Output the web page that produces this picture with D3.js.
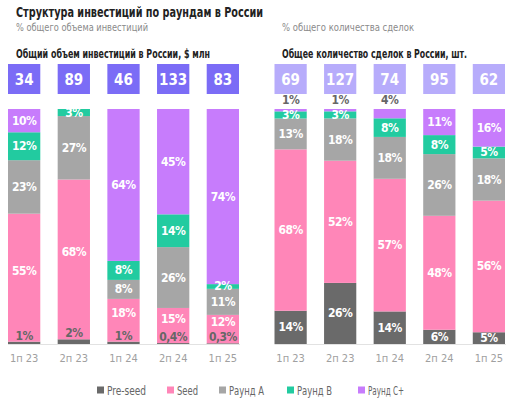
<!DOCTYPE html>
<html><head><meta charset="utf-8">
<script src="https://cdn.jsdelivr.net/npm/d3@7"></script>
<style>
html,body{margin:0;padding:0;background:#fff;}
svg{display:block;font-family:"DejaVu Sans Condensed","DejaVu Sans",sans-serif;font-stretch:condensed;}
</style></head>
<body><svg id="c" width="512" height="404"></svg>
<script>
const periods = ["1п 23","2п 23","1п 24","2п 24","1п 25"];
const series = ["Pre-seed","Seed","Раунд A","Раунд B","Раунд C+"];
const colors = ["#6a6a6a","#ff86b8","#a6a6a6","#22cba0","#c77cfc"];
// Investment volume shares, %
const volPreseed = [1, 2, 1, 0.4, 0.3];
const volSeed    = [55, 68, 18, 15, 12];
const volA       = [23, 27, 8, 26, 11];
const volB       = [12, 3, 8, 14, 2];
const volC       = [10, 0, 64, 45, 74];
const volTotals  = [34, 89, 46, 133, 83];
// Deal count shares, %
const cntPreseed = [14, 26, 14, 6, 5];
const cntSeed    = [68, 52, 57, 48, 56];
const cntA       = [13, 18, 18, 26, 18];
const cntB       = [3, 3, 8, 8, 5];
const cntC       = [1, 1, 4, 11, 16];
const cntTotals  = [69, 127, 74, 95, 62];

const svg = d3.select("#c");
const fmt = v => String(v).replace(".", ",") + "%";

function fitText(sel, len){ sel.attr("textLength",len).attr("lengthAdjust","spacingAndGlyphs"); return sel; }

fitText(svg.append("text").attr("x",16).attr("y",17).attr("font-size",14).attr("font-weight","bold")
  .attr("fill","#222").text("Структура инвестиций по раундам в России"), 247);

function chart(opts){
  const {x0,x1,sub,header,totals,boxColor,vals,chartId} = opts;
  fitText(svg.append("text").attr("x",opts.textX).attr("y",30.5).attr("font-size",11).attr("fill","#8a8a8a").text(sub), opts.subW);
  fitText(svg.append("text").attr("x",opts.textX).attr("y",57.5).attr("font-size",11.5).attr("font-weight","bold").attr("fill","#222").text(header), opts.headW);
  const rows = periods.map((p,i)=>{const o={period:p}; series.forEach((s,j)=>o[s]=vals[j][i]); return o;});
  const stack = d3.stack().keys(series).offset(d3.stackOffsetExpand)(rows);
  const x = d3.scaleBand().domain(periods).range([x0,x1]).paddingInner(0.35).paddingOuter(0);
  const y = d3.scaleLinear().domain([0,1]).range([344,109]);
  const g = svg.append("g");
  g.append("line").attr("x1",x0).attr("x2",x1+1).attr("y1",344.5).attr("y2",344.5).attr("stroke","#e2e2e2").attr("stroke-width",1);
  g.selectAll("rect.box").data(periods).join("rect").attr("class","box")
    .attr("x",d=>x(d)).attr("y",64).attr("width",x.bandwidth()).attr("height",30).attr("fill",boxColor);
  g.selectAll("text.box").data(periods).join("text").attr("class","box")
    .attr("x",d=>x(d)+x.bandwidth()/2).attr("y",84.5).attr("text-anchor","middle")
    .attr("font-size",15).attr("font-weight","bold").attr("fill","#fff").text((d,i)=>totals[i]);
  stack.forEach((layer,j)=>{
    g.selectAll("rect.s"+j).data(layer).join("rect").attr("class","s"+j)
      .attr("x",d=>x(d.data.period)).attr("width",x.bandwidth())
      .attr("y",d=>y(d[1])).attr("height",d=>Math.max(0,y(d[0])-y(d[1])))
      .attr("fill",colors[j]);
  });
  stack.forEach((layer,j)=>{
    layer.forEach((d,i)=>{
      const v = vals[j][i];
      if(!v) return;
      const top = y(d[1]), bot = y(d[0]);
      let cy = (top+bot)/2, fill = "#fff";
      if(chartId==="vol" && j===0 && v<3){ cy = top-6; fill="#666"; }
      else if(chartId==="vol" && j===1 && vals[0][i]<3){ cy = (top+bot-14)/2; }
      else if(chartId==="cnt" && j===4 && v<5){ cy = 100; fill="#666"; }
      g.append("text").attr("x",x(d.data.period)+x.bandwidth()/2).attr("y",cy+4)
        .attr("text-anchor","middle").attr("font-size",12).attr("font-weight","bold")
        .attr("letter-spacing",-0.5).attr("fill",fill).text(fmt(v));
    });
  });
  g.selectAll("text.xl").data(periods).join("text").attr("class","xl")
    .attr("x",d=>x(d)+x.bandwidth()/2).attr("y",362).attr("text-anchor","middle")
    .attr("font-size",11).attr("fill","#a0a0a0").text(d=>d);
}

chart({x0:8,x1:239,textX:16,sub:"% общего объема инвестиций",header:"Общий объем инвестиций в России, $ млн",
  subW:132,headW:194,totals:volTotals,boxColor:"#7b6cf6",vals:[volPreseed,volSeed,volA,volB,volC],chartId:"vol"});
chart({x0:274.5,x1:505,textX:282,sub:"% общего количества сделок",header:"Общее количество сделок в России, шт.",
  subW:132,headW:185,totals:cntTotals,boxColor:"#b7acfb",vals:[cntPreseed,cntSeed,cntA,cntB,cntC],chartId:"cnt"});

const legX = [97,167,219,287,358];
const legW = [39,21,35,35,36];
const leg = svg.append("g");
series.forEach((s,i)=>{
  leg.append("rect").attr("x",legX[i]).attr("y",386.5).attr("width",7).attr("height",7).attr("fill",colors[i]);
  fitText(leg.append("text").attr("x",legX[i]+10).attr("y",394.5).attr("font-size",12).attr("fill","#666").text(s), legW[i]);
});
</script></body></html>
